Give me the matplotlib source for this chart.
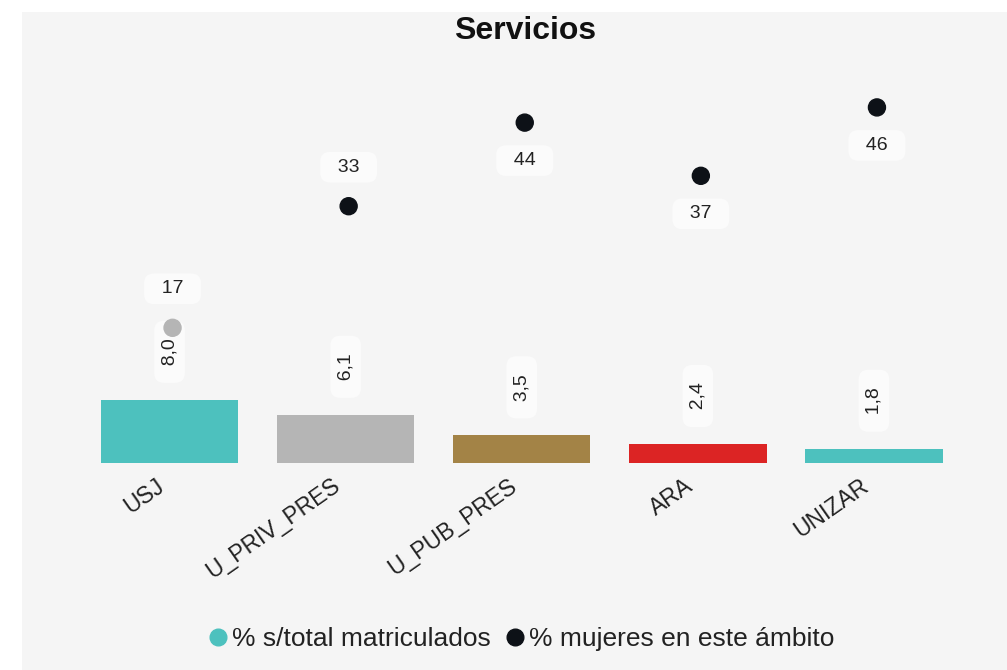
import numpy as np
from matplotlib import pyplot as plt
from matplotlib.lines import Line2D
from matplotlib.patches import Rectangle
from matplotlib.transforms import ScaledTranslation

plt.rcParams['font.family'] = ['Liberation Sans', 'DejaVu Sans']

# data
categories = ['USJ', 'U_PRIV_PRES', 'U_PUB_PRES', 'ARA', 'UNIZAR']
pct_matriculados = [8.0, 6.1, 3.5, 2.4, 1.8]
pct_mujeres = [17, 33, 44, 37, 46]

bar_colors = ['#4dc1be', '#b5b5b5', '#a38346', '#dc2424', '#4dc1be']
dot_colors = ['#b5b5b5', '#0d1117', '#0d1117', '#0d1117', '#0d1117']
dot_label_side = ['above', 'above', 'below', 'below', 'below']

W, H = 1007, 670
fig = plt.figure(figsize=(W / 100, H / 100), dpi=100)
fig.patches.append(Rectangle((22 / W, 0), 1 - 22 / W, 1 - 12 / H,
                             transform=fig.transFigure, facecolor='#f5f5f5',
                             edgecolor='none', zorder=-10))

ax = fig.add_axes([81.5 / W, 207 / H, 880.5 / W, 403 / H])
ax.set_facecolor('none')
x = np.arange(len(categories))

ax.bar(x, pct_matriculados, width=0.78, color=bar_colors)
ax.set_xlim(-0.5, len(categories) - 0.5)
ax.set_ylim(0, 51.0)

box = dict(boxstyle='round,pad=0.35,rounding_size=0.5', facecolor='#fbfbfb', edgecolor='none')
for xi, v in zip(x, pct_matriculados):
    ax.annotate('  ' + f'{v:.1f}'.replace('.', ',') + '  ', (xi, v),
                xytext=(0, 48), textcoords='offset pixels',
                ha='center', va='center', rotation=90,
                fontsize=14, color='#222222', bbox=box)

ax2 = ax.twinx()
ax2.set_ylim(-0.79, 52.24)
ax2.scatter(x + 0.017, pct_mujeres, s=150, color=dot_colors, zorder=3)
for xi, v, side in zip(x, pct_mujeres, dot_label_side):
    dy = 39 if side == 'above' else -38
    ax2.annotate('  ' + str(v) + '  ', (xi + 0.017, v),
                 xytext=(0, dy), textcoords='offset pixels',
                 ha='center', va='center', fontsize=14, color='#222222', bbox=box)

for a in (ax, ax2):
    for s in a.spines.values():
        s.set_visible(False)
    a.set_yticks([])
    a.tick_params(length=0)

ax.set_xticks(x)
ax.set_xticklabels(categories, rotation=35, ha='right', rotation_mode='anchor',
                   fontsize=16.5, color='#222222')
ax.tick_params(axis='x', pad=8)
shift = ScaledTranslation(-14 / 100, 0, fig.dpi_scale_trans)
for lbl in ax.get_xticklabels():
    lbl.set_transform(lbl.get_transform() + shift)

fig.text(525 / W, 1 - 31 / H, 'Servicios', ha='center', va='center',
         fontsize=23, fontweight='bold', color='#111111')

handles = [
    Line2D([], [], marker='o', linestyle='none', markersize=12, color='#4dc1be'),
    Line2D([], [], marker='o', linestyle='none', markersize=12, color='#0d1117'),
]
fig.legend(handles, ['% s/total matriculados', '% mujeres en este ámbito'],
           loc='center', bbox_to_anchor=(522 / W, 31 / H), ncol=2, frameon=False,
           fontsize=19, handlelength=0.6, handletextpad=0.25, columnspacing=0.6,
           labelcolor='#222222')

plt.savefig('out.png', dpi=100)
